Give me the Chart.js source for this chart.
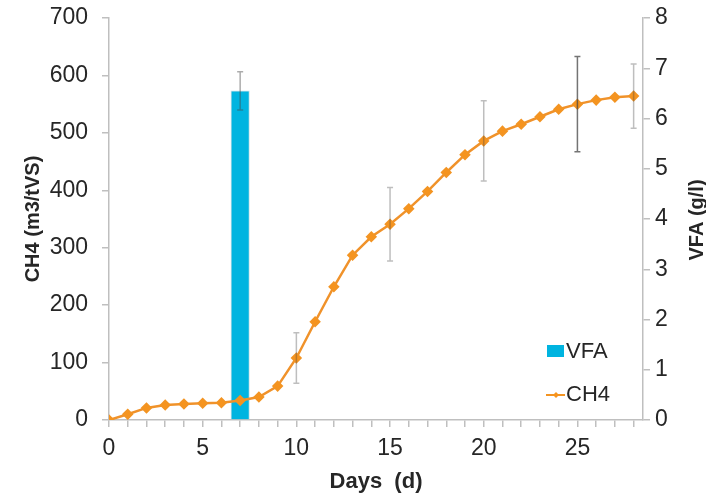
<!DOCTYPE html>
<html>
<head>
<meta charset="utf-8">
<script src="https://cdn.jsdelivr.net/npm/chart.js@4/dist/chart.umd.min.js"></script>
<style>
html,body{margin:0;padding:0;background:#fff;}
#wrap{width:706px;height:495px;}
</style>
</head>
<body>
<div id="wrap"><canvas id="c" width="706" height="495"></canvas></div>
<script>
// ---- data ----
const days = [0,1,2,3,4,5,6,7,8,9,10,11,12,13,14,15,16,17,18,19,20,21,22,23,24,25,26,27,28];
const ch4 = [0,10,21,26,28,29,30,34,40,59,108,171,232,287,319,341,368,398,431,462,486,503,515,528,541,550,557,562,564];
const ch4ErrDays = [10,15,20,25,28];
const ch4Err = [44,64,70,83,56];
const vfaDays = [7];
const vfa = [6.55];
const vfaErr = [0.38];
const xTickLabels = [0,5,10,15,20,25];
const yTicks = [0,100,200,300,400,500,600,700];
const y2Ticks = [0,1,2,3,4,5,6,7,8];

const AXIS = '#bfbfbf';
const TXT = '#262626';
const FONT = '"Liberation Sans", Arial, sans-serif';

const errorBars = {
  id: 'errorBars',
  afterDatasetsDraw(chart) {
    const ctx = chart.ctx, x = chart.scales.x, y = chart.scales.y, y2 = chart.scales.y2;
    function bar(px, top, bot, color) {
      ctx.save();
      ctx.strokeStyle = color; ctx.lineWidth = 1.5;
      ctx.beginPath();
      ctx.moveTo(px, top); ctx.lineTo(px, bot);
      ctx.moveTo(px - 3, top); ctx.lineTo(px + 3, top);
      ctx.moveTo(px - 3, bot); ctx.lineTo(px + 3, bot);
      ctx.stroke();
      ctx.restore();
    }
    vfaDays.forEach((d, i) => {
      const v = vfa[i], e = vfaErr[i];
      bar(x.getPixelForValue(d), y2.getPixelForValue(v + e), y2.getPixelForValue(v - e), 'rgba(70,70,70,0.45)');
    });
    ch4ErrDays.forEach((d, i) => {
      const v = ch4[days.indexOf(d)], e = ch4Err[i];
      const col = d === 25 ? 'rgba(70,70,70,0.75)' : 'rgba(70,70,70,0.35)';
      bar(x.getPixelForValue(d), y.getPixelForValue(v + e), y.getPixelForValue(v - e), col);
    });
  }
};

const extras = {
  id: 'extras',
  afterDraw(chart) {
    const ctx = chart.ctx;
    ctx.save();
    ctx.fillStyle = TXT;
    ctx.textAlign = 'center';
    ctx.textBaseline = 'middle';
    ctx.font = 'bold 20px ' + FONT;
    ctx.save(); ctx.translate(33, 219); ctx.rotate(-Math.PI / 2); ctx.fillText('CH4 (m3/tVS)', 0, 0); ctx.restore();
    ctx.save(); ctx.translate(697, 220); ctx.rotate(-Math.PI / 2); ctx.fillText('VFA (g/l)', 0, 0); ctx.restore();
    ctx.font = 'bold 22px ' + FONT;
    ctx.fillText('Days  (d)', 376, 482);
    ctx.textAlign = 'left';
    ctx.font = '22px ' + FONT;
    ctx.fillStyle = '#00b4e0';
    ctx.fillRect(547, 345, 17, 12);
    ctx.fillStyle = TXT;
    ctx.fillText('VFA', 566, 352);
    ctx.strokeStyle = '#f39422'; ctx.lineWidth = 2;
    ctx.beginPath(); ctx.moveTo(546, 395); ctx.lineTo(565, 395); ctx.stroke();
    ctx.fillStyle = '#f7941d';
    ctx.beginPath(); ctx.moveTo(556, 392); ctx.lineTo(559, 395); ctx.lineTo(556, 398); ctx.lineTo(553, 395); ctx.closePath(); ctx.fill();
    ctx.fillStyle = TXT;
    ctx.fillText('CH4', 566, 395);
    ctx.restore();
  }
};

new Chart(document.getElementById('c'), {
  type: 'line',
  data: {
    datasets: [
      {
        type: 'line', label: 'CH4', yAxisID: 'y',
        data: days.map((d, i) => ({x: d, y: ch4[i]})),
        borderColor: '#f0922a', backgroundColor: '#f7941d',
        borderWidth: 2.5, pointStyle: 'rectRot', pointRadius: 4,
        pointBorderColor: '#f39422', pointBackgroundColor: '#f7941d',
        tension: 0, fill: false
      },
      {
        type: 'bar', label: 'VFA', yAxisID: 'y2',
        data: vfaDays.map((d, i) => ({x: d, y: vfa[i]})),
        backgroundColor: '#00b4e0', borderColor: '#c8dfe6', borderWidth: 1,
        barThickness: 18.5
      }
    ]
  },
  options: {
    responsive: false, animation: false,
    layout: {padding: {top: 18, left: 0, right: 0, bottom: 0}},
    plugins: {legend: {display: false}, tooltip: {enabled: false}},
    scales: {
      x: {
        type: 'linear', min: 0, max: 28.5, offset: false,
        afterFit(s) { s.height = 75; s.paddingLeft = 0; s.paddingRight = 0; },
        border: {display: true, color: AXIS, width: 1.5},
        grid: {drawOnChartArea: false, color: AXIS, tickLength: 7, offset: false, lineWidth: 1.5},
        ticks: {
          stepSize: 1, autoSkip: false, maxRotation: 0, includeBounds: false,
          color: TXT, font: {family: FONT, size: 23}, padding: 8,
          callback: v => xTickLabels.includes(v) ? String(v) : ''
        }
      },
      y: {
        type: 'linear', position: 'left', min: 0, max: 700,
        afterFit(s) { s.width = 109; s.paddingTop = 0; s.paddingBottom = 0; },
        afterBuildTicks(s) { s.ticks = yTicks.map(v => ({value: v})); },
        border: {display: true, color: AXIS, width: 1.5},
        grid: {drawOnChartArea: false, color: AXIS, tickLength: 7, lineWidth: 1.5},
        ticks: {color: TXT, font: {family: FONT, size: 23}, padding: 14}
      },
      y2: {
        type: 'linear', position: 'right', min: 0, max: 8,
        afterFit(s) { s.width = 63; s.paddingTop = 0; s.paddingBottom = 0; },
        afterBuildTicks(s) { s.ticks = y2Ticks.map(v => ({value: v})); },
        border: {display: true, color: AXIS, width: 1.5},
        grid: {drawOnChartArea: false, color: AXIS, tickLength: 7, lineWidth: 1.5},
        ticks: {color: TXT, font: {family: FONT, size: 23}, padding: 5}
      }
    }
  },
  plugins: [errorBars, extras]
});
</script>
</body>
</html>
